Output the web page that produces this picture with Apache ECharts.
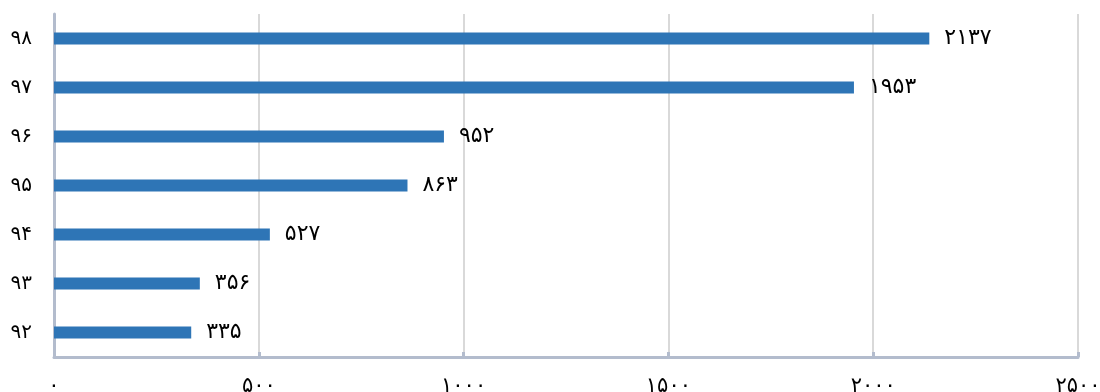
<!DOCTYPE html>
<html>
<head>
<meta charset="utf-8">
<script src="https://cdn.jsdelivr.net/npm/echarts@6/dist/echarts.min.js"></script>
<style>
html,body{margin:0;padding:0;background:#fff;}
#chart{width:1100px;height:392px;}
</style>
</head>
<body>
<div id="chart"></div>
<script>
const categories = ['۹۲', '۹۳', '۹۴', '۹۵', '۹۶', '۹۷', '۹۸'];
const values = [335, 356, 527, 863, 952, 1953, 2137];
const xTicks = [0, 500, 1000, 1500, 2000, 2500];

const fa = d => String(d).replace(/[0-9]/g, c => '۰۱۲۳۴۵۶۷۸۹'[+c]);
const FONT = "'DejaVu Sans', sans-serif";

const chart = echarts.init(document.getElementById('chart'));
chart.setOption({
  animation: false,
  grid: { left: 54, right: 22, top: 14, bottom: 35, containLabel: false, outerBoundsMode: 'none' },
  xAxis: {
    type: 'value',
    min: xTicks[0],
    max: xTicks[xTicks.length - 1],
    interval: 500,
    axisLine: { show: true, lineStyle: { color: '#b3bccd', width: 3 } },
    axisTick: { show: true, inside: true, length: 5, lineStyle: { color: '#b3bccd', width: 3 } },
    splitLine: { show: true, lineStyle: { color: '#d9d9d9', width: 2 } },
    axisLabel: { formatter: v => fa(v), fontFamily: FONT, fontSize: 21, color: '#000', margin: 19 }
  },
  yAxis: {
    type: 'category',
    data: categories,
    axisLine: { show: true, lineStyle: { color: '#b3bccd', width: 3 } },
    axisTick: { show: true, inside: true, alignWithLabel: true, length: 5, lineStyle: { color: '#b3bccd', width: 3 } },
    axisLabel: { fontFamily: FONT, fontSize: 20, color: '#000', margin: 22 }
  },
  series: [{
    type: 'bar',
    data: values,
    barWidth: 12,
    itemStyle: { color: '#2e75b6' },
    label: {
      show: true,
      position: 'right',
      distance: 15,
      formatter: p => fa(p.value),
      fontFamily: FONT,
      fontSize: 22,
      color: '#000'
    }
  }]
});
</script>
</body>
</html>
